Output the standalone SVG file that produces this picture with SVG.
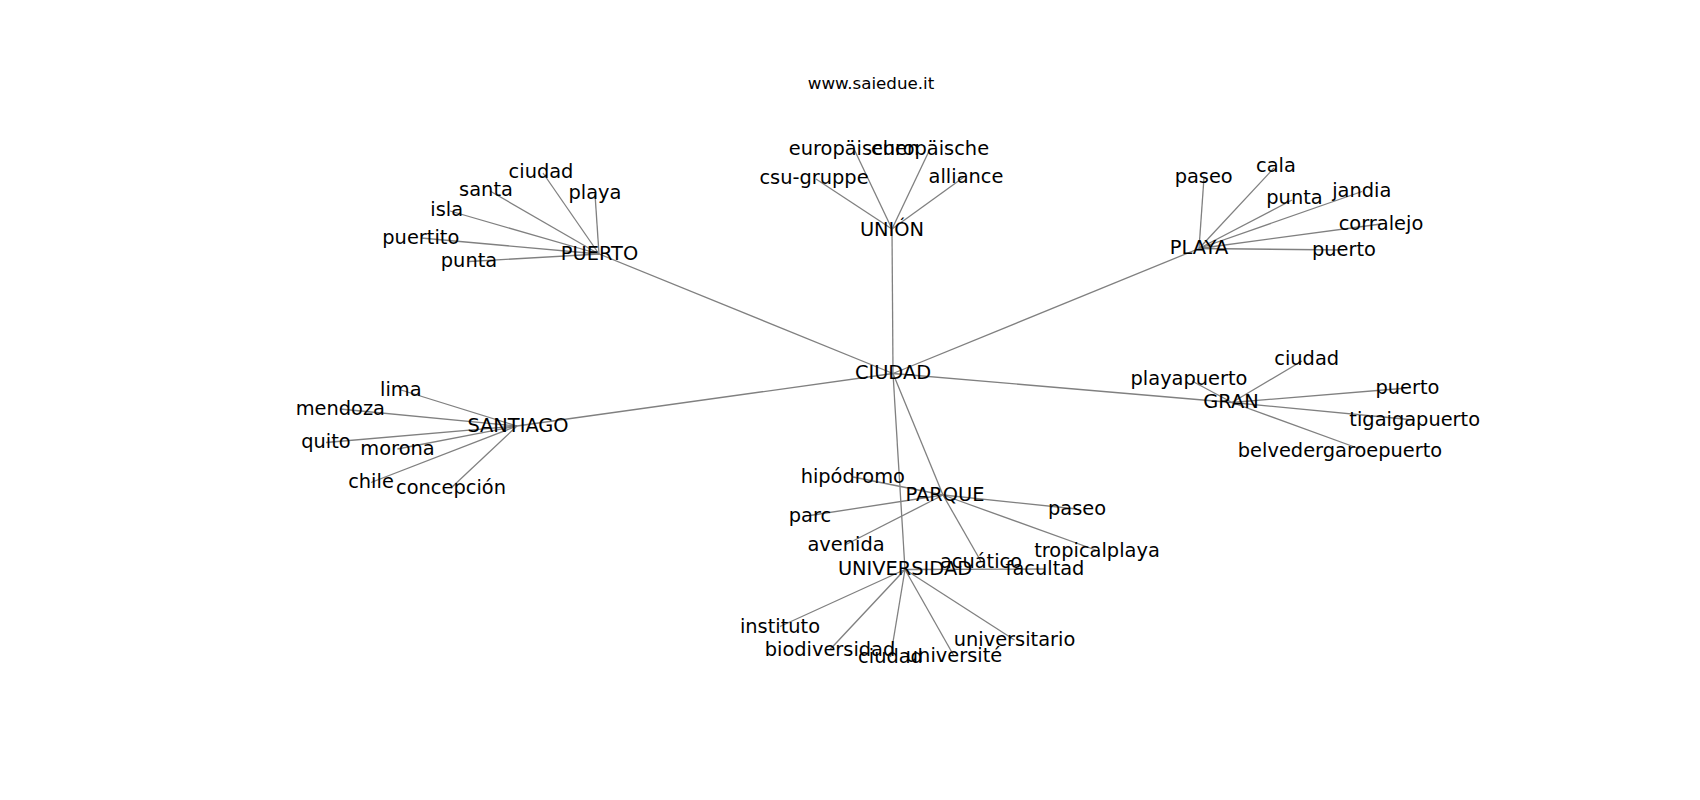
<svg xmlns="http://www.w3.org/2000/svg" width="1700" height="800" viewBox="0 0 1700 800">
<style>
text{font-family:"DejaVu Sans","Liberation Sans",sans-serif;font-size:19.4px;fill:#000;text-anchor:middle}
.title{font-size:16.7px}
#edges line{stroke:#808080;stroke-width:1.3}
</style>
<rect width="1700" height="800" fill="#fff"/>
<text class="title" x="871" y="89">www.saiedue.it</text>
<g id="edges">
<line x1="893" y1="373.5" x2="892" y2="229"/>
<line x1="893" y1="373.5" x2="599" y2="254"/>
<line x1="893" y1="373.5" x2="1199" y2="248.5"/>
<line x1="893" y1="373.5" x2="517" y2="426"/>
<line x1="893" y1="373.5" x2="1232" y2="402.5"/>
<line x1="893" y1="373.5" x2="943" y2="495"/>
<line x1="893" y1="373.5" x2="905" y2="569.5"/>
<line x1="892" y1="229" x2="854" y2="149"/>
<line x1="892" y1="229" x2="930" y2="149"/>
<line x1="892" y1="229" x2="816" y2="179"/>
<line x1="892" y1="229" x2="964" y2="177"/>
<line x1="599" y1="254" x2="543" y2="173"/>
<line x1="599" y1="254" x2="490" y2="191"/>
<line x1="599" y1="254" x2="595" y2="194"/>
<line x1="599" y1="254" x2="450" y2="211"/>
<line x1="599" y1="254" x2="421" y2="238"/>
<line x1="599" y1="254" x2="469" y2="261.5"/>
<line x1="1199" y1="248.5" x2="1204" y2="177.5"/>
<line x1="1199" y1="248.5" x2="1274" y2="168"/>
<line x1="1199" y1="248.5" x2="1292" y2="200"/>
<line x1="1199" y1="248.5" x2="1362" y2="191.5"/>
<line x1="1199" y1="248.5" x2="1381" y2="224"/>
<line x1="1199" y1="248.5" x2="1344" y2="250"/>
<line x1="517" y1="426" x2="401" y2="390"/>
<line x1="517" y1="426" x2="340" y2="409"/>
<line x1="517" y1="426" x2="326" y2="442.5"/>
<line x1="517" y1="426" x2="397.5" y2="449"/>
<line x1="517" y1="426" x2="371" y2="482.5"/>
<line x1="517" y1="426" x2="451" y2="488"/>
<line x1="1232" y1="402.5" x2="1302" y2="361"/>
<line x1="1232" y1="402.5" x2="1192" y2="381"/>
<line x1="1232" y1="402.5" x2="1407.5" y2="388"/>
<line x1="1232" y1="402.5" x2="1414.5" y2="420"/>
<line x1="1232" y1="402.5" x2="1360" y2="449"/>
<line x1="943" y1="495" x2="853" y2="477"/>
<line x1="943" y1="495" x2="1077" y2="509"/>
<line x1="943" y1="495" x2="810" y2="515.5"/>
<line x1="943" y1="495" x2="846" y2="544.5"/>
<line x1="943" y1="495" x2="1097" y2="550.5"/>
<line x1="943" y1="495" x2="981" y2="561.5"/>
<line x1="905" y1="569.5" x2="1045" y2="569"/>
<line x1="905" y1="569.5" x2="780" y2="626.5"/>
<line x1="905" y1="569.5" x2="830" y2="649.5"/>
<line x1="905" y1="569.5" x2="890.5" y2="657"/>
<line x1="905" y1="569.5" x2="954" y2="656"/>
<line x1="905" y1="569.5" x2="1014.5" y2="640"/>
</g>
<g id="n-ciudad"><text x="893" y="379.3">CIUDAD</text></g>
<g id="n-union"><text x="892" y="236">UNIÓN</text></g>
<g id="n-puerto"><text x="599.5" y="260">PUERTO</text></g>
<g id="n-playa"><text x="1199" y="254.3">PLAYA</text></g>
<g id="n-santiago"><text x="518" y="431.7">SANTIAGO</text></g>
<g id="n-gran"><text x="1231" y="408.3">GRAN</text></g>
<g id="n-parque"><text x="945" y="500.7">PARQUE</text></g>
<g id="n-universidad"><text x="905" y="575">UNIVERSIDAD</text></g>
<g id="u-europaischen"><text x="854" y="155">europäischen</text></g>
<g id="u-europaische"><text x="930" y="155">europäische</text></g>
<g id="u-csu"><text x="814" y="184">csu-gruppe</text></g>
<g id="u-alliance"><text x="966" y="183">alliance</text></g>
<g id="p-ciudad"><text x="541" y="177.7">ciudad</text></g>
<g id="p-santa"><text x="486" y="196">santa</text></g>
<g id="p-playa"><text x="595" y="199">playa</text></g>
<g id="p-isla"><text x="446.7" y="216">isla</text></g>
<g id="p-puertito"><text x="420.8" y="244">puertito</text></g>
<g id="p-punta"><text x="469" y="267.3">punta</text></g>
<g id="l-paseo"><text x="1203.7" y="183.3">paseo</text></g>
<g id="l-cala"><text x="1276" y="172.3">cala</text></g>
<g id="l-punta"><text x="1294.5" y="204.3">punta</text></g>
<g id="l-jandia"><text x="1361.7" y="197.3">jandia</text></g>
<g id="l-corralejo"><text x="1381" y="230">corralejo</text></g>
<g id="l-puerto"><text x="1344" y="255.7">puerto</text></g>
<g id="s-lima"><text x="400.8" y="396">lima</text></g>
<g id="s-mendoza"><text x="340.3" y="415">mendoza</text></g>
<g id="s-quito"><text x="326" y="448.3">quito</text></g>
<g id="s-morona"><text x="397.5" y="455">morona</text></g>
<g id="s-chile"><text x="371" y="488.3">chile</text></g>
<g id="s-concepcion"><text x="451" y="494">concepción</text></g>
<g id="g-ciudad"><text x="1306.7" y="365">ciudad</text></g>
<g id="g-playapuerto"><text x="1189" y="385">playapuerto</text></g>
<g id="g-puerto"><text x="1407.5" y="394">puerto</text></g>
<g id="g-tigaigapuerto"><text x="1414.7" y="426">tigaigapuerto</text></g>
<g id="g-belvedergaroepuerto"><text x="1340" y="456.7">belvedergaroepuerto</text></g>
<g id="q-hipodromo"><text x="852.8" y="483.3">hipódromo</text></g>
<g id="q-paseo"><text x="1077" y="515">paseo</text></g>
<g id="q-parc"><text x="810" y="521.7">parc</text></g>
<g id="q-avenida"><text x="846" y="550.7">avenida</text></g>
<g id="q-tropicalplaya"><text x="1097" y="556.7">tropicalplaya</text></g>
<g id="q-acuatico"><text x="981" y="567.5">acuático</text></g>
<g id="v-facultad"><text x="1045" y="575">facultad</text></g>
<g id="v-instituto"><text x="780" y="632.5">instituto</text></g>
<g id="v-biodiversidad"><text x="830" y="655.5">biodiversidad</text></g>
<g id="v-ciudad"><text x="890.5" y="663">ciudad</text></g>
<g id="v-universite"><text x="954" y="661.7">université</text></g>
<g id="v-universitario"><text x="1014.5" y="646">universitario</text></g>
</svg>
